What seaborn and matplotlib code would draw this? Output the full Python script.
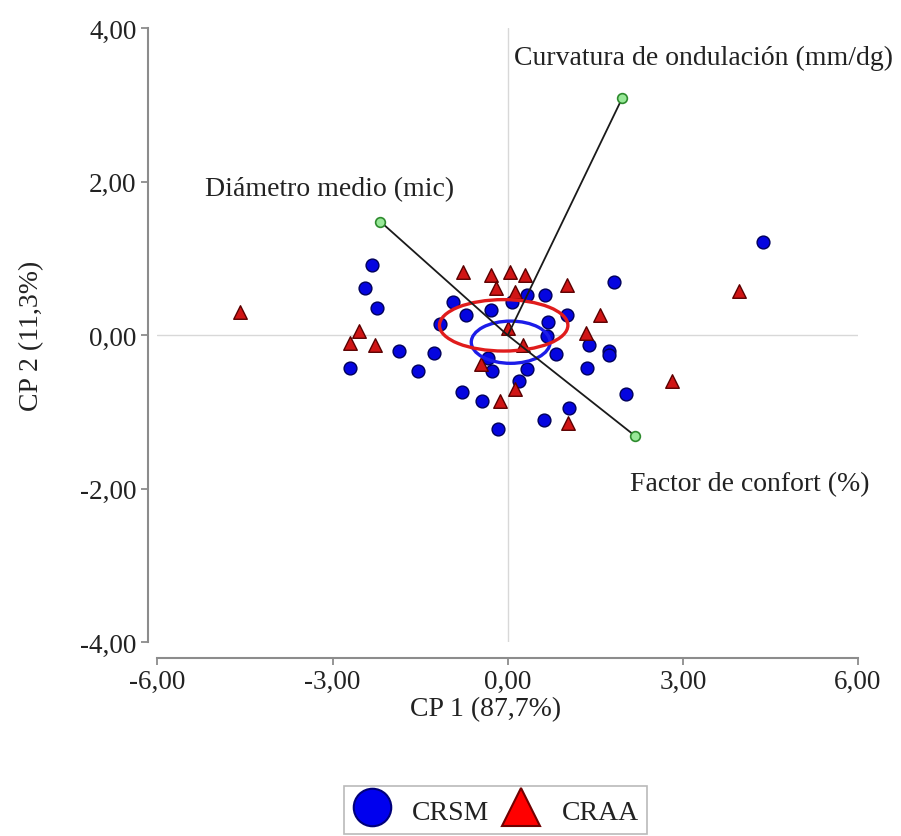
import numpy as np
import pandas as pd
import matplotlib
matplotlib.use('Agg')
import matplotlib.pyplot as plt
from matplotlib.lines import Line2D
from matplotlib.patches import Ellipse
import seaborn as sns

# ---------------- data ----------------
groups = ['CRSM', 'CRAA']

crsm_x = [-2.32, -2.45, -2.24, -2.71, -1.87, -1.54, -1.26, -1.16, -0.93, -0.71,
          -0.78, -0.44, -0.17, -0.29, 0.07, 0.33, 0.63, 0.69, 0.67, 1.02,
          0.83, -0.33, -0.27, 0.33, 0.19, 0.62, 1.05, 1.36, 1.39, 1.74,
          1.74, 1.82, 4.37, 2.02]
crsm_y = [0.91, 0.61, 0.35, -0.43, -0.20, -0.46, -0.23, 0.15, 0.44, 0.26,
          -0.74, -0.85, -1.22, 0.33, 0.44, 0.52, 0.52, 0.17, -0.01, 0.26,
          -0.25, -0.29, -0.46, -0.44, -0.59, -1.10, -0.95, -0.43, -0.13, -0.20,
          -0.26, 0.69, 1.22, -0.77]

craa_x = [-0.76, -0.29, 0.04, 0.29, -0.20, 0.13, 1.01, 1.58, 1.34, 0.00,
          0.26, -2.54, -2.71, -2.27, -0.46, 0.12, -0.14, 1.04, -4.58, 3.96,
          2.82]
craa_y = [0.83, 0.78, 0.83, 0.78, 0.62, 0.57, 0.65, 0.26, 0.03, 0.09,
          -0.12, 0.05, -0.10, -0.12, -0.37, -0.70, -0.85, -1.14, 0.31, 0.58,
          -0.59]

var_names = ['Curvatura de ondulación (mm/dg)', 'Diámetro medio (mic)',
             'Factor de confort (%)']
var_x = [1.96, -2.18, 2.18]
var_y = [3.09, 1.48, -1.31]

# confidence ellipses (CRSM, CRAA)
ell_cx = [0.05, -0.07]
ell_cy = [-0.09, 0.13]
ell_w = [1.35, 2.20]
ell_h = [0.55, 0.67]

xticks = [-6, -3, 0, 3, 6]
xtick_labels = ['-6,00', '-3,00', '0,00', '3,00', '6,00']
yticks = [-4, -2, 0, 2, 4]
ytick_labels = ['-4,00', '-2,00', '0,00', '2,00', '4,00']
xlabel = 'CP 1 (87,7%)'
ylabel = 'CP 2 (11,3%)'

# ---------------- style ----------------
sns.set_style('ticks')
plt.rcParams['font.family'] = ['Liberation Serif', 'DejaVu Serif']
TXT = '#222222'
SPINE = '#8c8c8c'

fig = plt.figure(figsize=(9.01, 8.37), dpi=100)
ax = fig.add_axes([0.1748, 0.2314, 0.7775, 0.7336])

df = pd.DataFrame({
    'x': crsm_x + craa_x,
    'y': crsm_y + craa_y,
    'grupo': [groups[0]] * len(crsm_x) + [groups[1]] * len(craa_x),
})

ax.axhline(0, color='#d8d8d8', lw=1.0, zorder=0)
ax.axvline(0, color='#d8d8d8', lw=1.0, zorder=0)

sns.scatterplot(data=df[df['grupo'] == 'CRSM'], x='x', y='y', marker='o', s=85,
                color='#0505e0', edgecolor='#00005a', linewidth=1.0,
                legend=False, ax=ax, zorder=3)
sns.scatterplot(data=df[df['grupo'] == 'CRAA'], x='x', y='y', marker='^', s=95,
                color='#d01515', edgecolor='#5a0000', linewidth=1.0,
                legend=False, ax=ax, zorder=3)

ell_colors = ['#1c1ce8', '#e01c1c']
for cx, cy, w, h, c in zip(ell_cx, ell_cy, ell_w, ell_h, ell_colors):
    ax.add_patch(Ellipse((cx, cy), w, h, fill=False, ec=c, lw=2.4, zorder=4))

for vx, vy in zip(var_x, var_y):
    ax.plot([0, vx], [0, vy], color='#1a1a1a', lw=1.3, zorder=5)
    ax.plot([vx], [vy], marker='o', ms=7, mfc='#98e898', mec='#2e8b2e',
            mew=1.2, ls='', zorder=6)

# variable labels (layout positions)
label_pos = [(0.10, 3.54), (-5.18, 1.82), (2.10, -2.02)]
for name, (tx, ty) in zip(var_names, label_pos):
    ax.text(tx, ty, name, fontsize=20, color=TXT, ha='left', va='baseline')

ax.set_xlim(-6, 6)
ax.set_ylim(-4, 4)
ax.set_xticks(xticks)
ax.set_xticklabels(xtick_labels)
ax.set_yticks(yticks)
ax.set_yticklabels(ytick_labels)
ax.tick_params(direction='out', length=5, width=1.3, color=SPINE,
               labelsize=19.5, labelcolor=TXT, pad=3)

sns.despine(ax=ax, offset={'left': 7, 'bottom': 11})
for side in ['left', 'bottom']:
    ax.spines[side].set_color(SPINE)
    ax.spines[side].set_linewidth(1.5)

ax.set_xlabel(xlabel, fontsize=20, color=TXT)
ax.set_ylabel(ylabel, fontsize=20, color=TXT)
ax.xaxis.set_label_coords(0.469, -0.087)
ax.yaxis.set_label_coords(-0.162, 0.5)

handles = [
    Line2D([], [], marker='o', ls='', ms=27, mfc='#0000ee', mec='#00007a', mew=1.5),
    Line2D([], [], marker='^', ls='', ms=28, mfc='#ff0000', mec='#700000', mew=1.5),
]
leg = fig.legend(handles, groups, loc='upper left',
                 bbox_to_anchor=(344 / 901, 1 - 786.7 / 837), ncol=2,
                 fontsize=20, frameon=True, fancybox=False, edgecolor='#a8a8a8',
                 handlelength=1.4, handleheight=1.4, handletextpad=0.75,
                 columnspacing=0.45, borderpad=0.3, borderaxespad=0)
for t in leg.get_texts():
    t.set_color(TXT)
leg.get_frame().set_linewidth(1.2)

fig.savefig('out.png', dpi=100, facecolor='white')
